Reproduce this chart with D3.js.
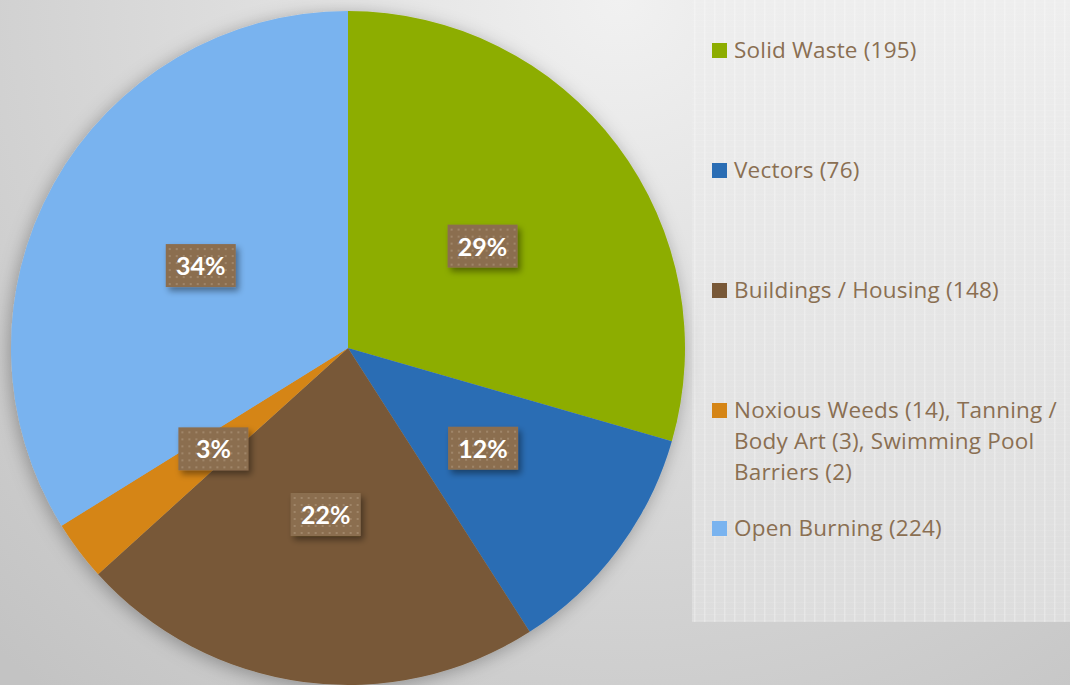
<!DOCTYPE html>
<html>
<head>
<meta charset="utf-8">
<script src="https://cdn.jsdelivr.net/npm/d3@7"></script>
<style>
  body { margin: 0; padding: 0; overflow: hidden; }
  svg { display: block; }
</style>
</head>
<body>
<div id="chart"></div>
<script>
// data
var categories = [ "Solid Waste", "Vectors", "Buildings / Housing", "Other", "Open Burning" ];
var counts = [ 195, 76, 148, 19, 224 ];
var colors = [ "#8dad00", "#2a6db4", "#785837", "#d58516", "#79b3ef" ];
var legendLines = [
  [ "Solid Waste (195)" ],
  [ "Vectors (76)" ],
  [ "Buildings / Housing (148)" ],
  [ "Noxious Weeds (14), Tanning /", "Body Art (3), Swimming Pool", "Barriers (2)" ],
  [ "Open Burning (224)" ]
];

var width = 1070, height = 685;
var cx = 348, cy = 348, radius = 337;

// percentages the way the office chart rounds them (so they add to 100)
function roundedPercents( vals ) {
  var total = d3.sum( vals );
  var raw = vals.map( v => v / total * 100 );
  var out = raw.map( Math.floor );
  var left = 100 - d3.sum( out );
  var order = d3.range( vals.length ).sort( ( a, b ) => ( raw[ b ] - out[ b ] ) - ( raw[ a ] - out[ a ] ) );
  for ( var i = 0; i < left; i++ ) out[ order[ i ] ] += 1;
  return out;
}
var pcts = roundedPercents( counts );

var svg = d3.select( "#chart" ).append( "svg" )
  .attr( "width", width )
  .attr( "height", height );

var defs = svg.append( "defs" );

var bg = defs.append( "radialGradient" )
  .attr( "id", "bg" )
  .attr( "gradientUnits", "userSpaceOnUse" )
  .attr( "cx", 620 ).attr( "cy", 0 ).attr( "r", 900 );
bg.append( "stop" ).attr( "offset", "0%" ).attr( "stop-color", "#f1f1f1" );
bg.append( "stop" ).attr( "offset", "100%" ).attr( "stop-color", "#c3c3c3" );

var panelGrad = defs.append( "linearGradient" )
  .attr( "id", "panelGrad" )
  .attr( "x1", 0 ).attr( "y1", 0 ).attr( "x2", 0 ).attr( "y2", 1 );
panelGrad.append( "stop" ).attr( "offset", "0%" ).attr( "stop-color", "#eeeeee" );
panelGrad.append( "stop" ).attr( "offset", "100%" ).attr( "stop-color", "#dddddd" );

var stripes = defs.append( "pattern" )
  .attr( "id", "stripes" )
  .attr( "patternUnits", "userSpaceOnUse" )
  .attr( "width", 10 ).attr( "height", 6 );
stripes.append( "rect" ).attr( "x", 4 ).attr( "width", 1.5 ).attr( "height", 6 )
  .style( "fill", "#ffffff" ).style( "opacity", 0.25 );
stripes.append( "rect" ).attr( "x", 0 ).attr( "y", 2 ).attr( "width", 10 ).attr( "height", 1 )
  .style( "fill", "#ffffff" ).style( "opacity", 0.08 );

var dots = defs.append( "pattern" )
  .attr( "id", "dots" )
  .attr( "patternUnits", "userSpaceOnUse" )
  .attr( "width", 7 ).attr( "height", 7 );
dots.append( "rect" ).attr( "width", 7 ).attr( "height", 7 ).style( "fill", "#8b6e50" );
dots.append( "rect" ).attr( "x", 3 ).attr( "y", 3 ).attr( "width", 2 ).attr( "height", 2 ).style( "fill", "#a08669" );

var pieShadow = defs.append( "filter" )
  .attr( "id", "pieShadow" )
  .attr( "x", "-10%" ).attr( "y", "-10%" ).attr( "width", "120%" ).attr( "height", "120%" );
pieShadow.append( "feDropShadow" )
  .attr( "dx", -2 ).attr( "dy", 3 ).attr( "stdDeviation", 9 )
  .attr( "flood-color", "#000" ).attr( "flood-opacity", 0.3 );

var boxShadow = defs.append( "filter" )
  .attr( "id", "boxShadow" )
  .attr( "x", "-20%" ).attr( "y", "-20%" ).attr( "width", "150%" ).attr( "height", "160%" );
boxShadow.append( "feDropShadow" )
  .attr( "dx", 3 ).attr( "dy", 4 ).attr( "stdDeviation", 3 )
  .attr( "flood-color", "#000" ).attr( "flood-opacity", 0.4 );

// background
svg.append( "rect" )
  .attr( "width", width ).attr( "height", height )
  .style( "fill", "url(#bg)" );

// legend panel
svg.append( "rect" )
  .attr( "x", 692 ).attr( "y", 0 ).attr( "width", width - 692 ).attr( "height", 622 )
  .style( "fill", "url(#panelGrad)" );
svg.append( "rect" )
  .attr( "x", 692 ).attr( "y", 0 ).attr( "width", width - 692 ).attr( "height", 622 )
  .style( "fill", "url(#stripes)" );

// pie
var pie = d3.pie().sort( null ).value( d => d )
  .startAngle( 0 ).endAngle( 2 * Math.PI );
var arcs = pie( counts );

var arc = d3.arc().innerRadius( 0 ).outerRadius( radius );
var labelArc = d3.arc().innerRadius( 0 ).outerRadius( radius );

var g = svg.append( "g" )
  .attr( "transform", "translate(" + cx + "," + cy + ")" );

g.append( "g" )
  .style( "filter", "url(#pieShadow)" )
  .selectAll( "path" )
  .data( arcs )
  .enter()
  .append( "path" )
    .attr( "d", arc )
    .style( "fill", ( d, i ) => colors[ i ] );

// data labels
var labels = g.selectAll( ".label" )
  .data( arcs )
  .enter()
  .append( "g" )
    .attr( "class", "label" )
    .attr( "transform", d => "translate(" + labelArc.centroid( d ) + ")" );

labels.append( "rect" )
  .attr( "x", -35 ).attr( "y", -22 )
  .attr( "width", 70 ).attr( "height", 43 )
  .style( "fill", "url(#dots)" )
  .style( "filter", "url(#boxShadow)" );

labels.append( "text" )
  .attr( "text-anchor", "middle" )
  .attr( "dy", "0.36em" )
  .style( "font-family", "Lato, 'Open Sans', sans-serif" )
  .style( "font-size", "25px" )
  .style( "font-weight", "bold" )
  .style( "fill", "#ffffff" )
  .text( ( d, i ) => pcts[ i ] + "%" );

// legend
var legendY = [ 50, 170, 290, 410, 528 ];
var legend = svg.selectAll( ".legend" )
  .data( categories )
  .enter()
  .append( "g" )
    .attr( "class", "legend" )
    .attr( "transform", ( d, i ) => "translate(712," + legendY[ i ] + ")" );

legend.append( "rect" )
  .attr( "x", 0 ).attr( "y", -7 )
  .attr( "width", 15 ).attr( "height", 15 )
  .style( "fill", ( d, i ) => colors[ i ] );

legend.append( "text" )
  .attr( "x", 22 )
  .style( "font-family", "'Open Sans', Lato, sans-serif" )
  .style( "font-size", "22.5px" )
  .style( "letter-spacing", "0.2px" )
  .style( "fill", "#8a6f52" )
  .each( function( d, i ) {
    var t = d3.select( this );
    legendLines[ i ].forEach( function( line, j ) {
      t.append( "tspan" )
        .attr( "x", 22 )
        .attr( "y", j * 31 )
        .attr( "dy", "0.36em" )
        .text( line );
    } );
  } );
</script>
</body>
</html>
